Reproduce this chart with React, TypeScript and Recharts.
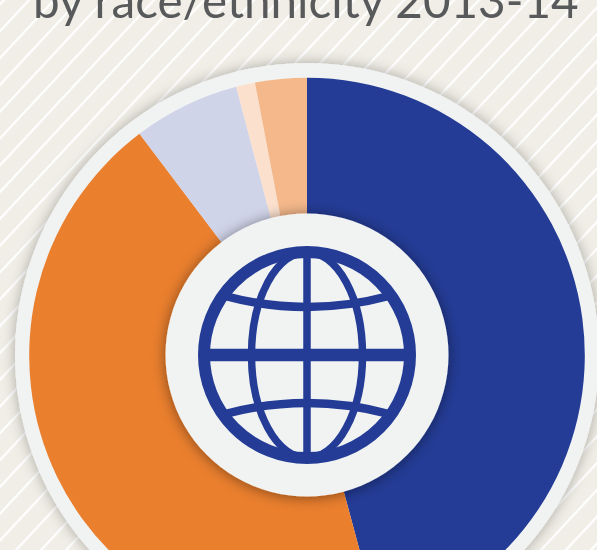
import React from 'react';
import { PieChart, Pie, Cell } from 'recharts';

const GROUPS = ['Group A', 'Group B', 'Group C', 'Group D', 'Group E'];
const SHARES = [45.8, 43.9, 6.2, 1.1, 3.0];
const COLORS = ['#243c96', '#ea7f2e', '#d0d4e8', '#fbe0cd', '#f4b88a'];

const data = GROUPS.map((name, i) => ({ name, value: SHARES[i] }));
const whole = [{ name: 'whole', value: 1 }];

const W = 597;
const H = 550;
const CX = 307;
const CY = 355;
const layer: React.CSSProperties = { position: 'absolute', left: 0, top: 0 };

export default function App() {
  return (
    <div style={{ position: 'fixed', left: 0, top: 0, width: W, height: H, overflow: 'hidden' }}>
      <svg width={W} height={H} style={layer}>
        <defs>
          <pattern id="stripes" width="18.28" height="18.28" patternUnits="userSpaceOnUse" patternTransform="rotate(-47)">
            <rect width="18.28" height="18.28" fill="#f0eee6" />
            <rect y="1.9" width="18.28" height="2.2" fill="#ffffff" />
          </pattern>
          <filter id="ringShadow" x="-20%" y="-20%" width="140%" height="140%">
            <feDropShadow dx="0" dy="0" stdDeviation="7" floodColor="#000" floodOpacity="0.3" />
          </filter>
          <filter id="hubShadow" x="-20%" y="-20%" width="140%" height="140%">
            <feDropShadow dx="0" dy="1" stdDeviation="7" floodColor="#000" floodOpacity="0.45" />
          </filter>
        </defs>
        <rect width={W} height={H} fill="url(#stripes)" />
        <text x={33} y={18} fontFamily="Lato" fontSize={47.6} fill="#58595b">
          by race/ethnicity 2013-14
        </text>
      </svg>
      <div style={layer}>
        <PieChart width={W} height={H} margin={{ top: 0, right: 0, bottom: 0, left: 0 }}>
          <Pie data={whole} dataKey="value" cx={CX} cy={CY} outerRadius={292} startAngle={90} endAngle={-270}
            stroke="none" isAnimationActive={false}>
            <Cell fill="#f1f3f3" stroke="none" filter="url(#ringShadow)" />
          </Pie>
          <Pie data={data} dataKey="value" cx={CX} cy={CY + 0.5} outerRadius={277.8} startAngle={90} endAngle={-270}
            stroke="none" isAnimationActive={false}>
            {data.map((entry, index) => (
              <Cell key={`cell-${index}`} fill={COLORS[index]} stroke="none" />
            ))}
          </Pie>
          <Pie data={whole} dataKey="value" cx={CX} cy={CY} outerRadius={141.5} startAngle={90} endAngle={-270}
            stroke="none" isAnimationActive={false}>
            <Cell fill="#f1f3f3" stroke="none" filter="url(#hubShadow)" />
          </Pie>
        </PieChart>
      </div>
      {/* globe icon */}
      <svg width={W} height={H} style={layer} fill="none" stroke="#243c96">
        <circle cx={CX} cy={CY} r={103} strokeWidth={12} />
        <ellipse cx={CX} cy={CY} rx={55.5} ry={103} strokeWidth={7.5} />
        <line x1={CX} y1={CY - 103} x2={CX} y2={CY + 103} strokeWidth={7.5} />
        <line x1={CX - 103} y1={CY} x2={CX + 103} y2={CY} strokeWidth={12.5} />
        <path d="M225 296 Q307 318 389 296" strokeWidth={8.5} />
        <path d="M225 414 Q307 392 389 414" strokeWidth={8.5} />
      </svg>
    </div>
  );
}
